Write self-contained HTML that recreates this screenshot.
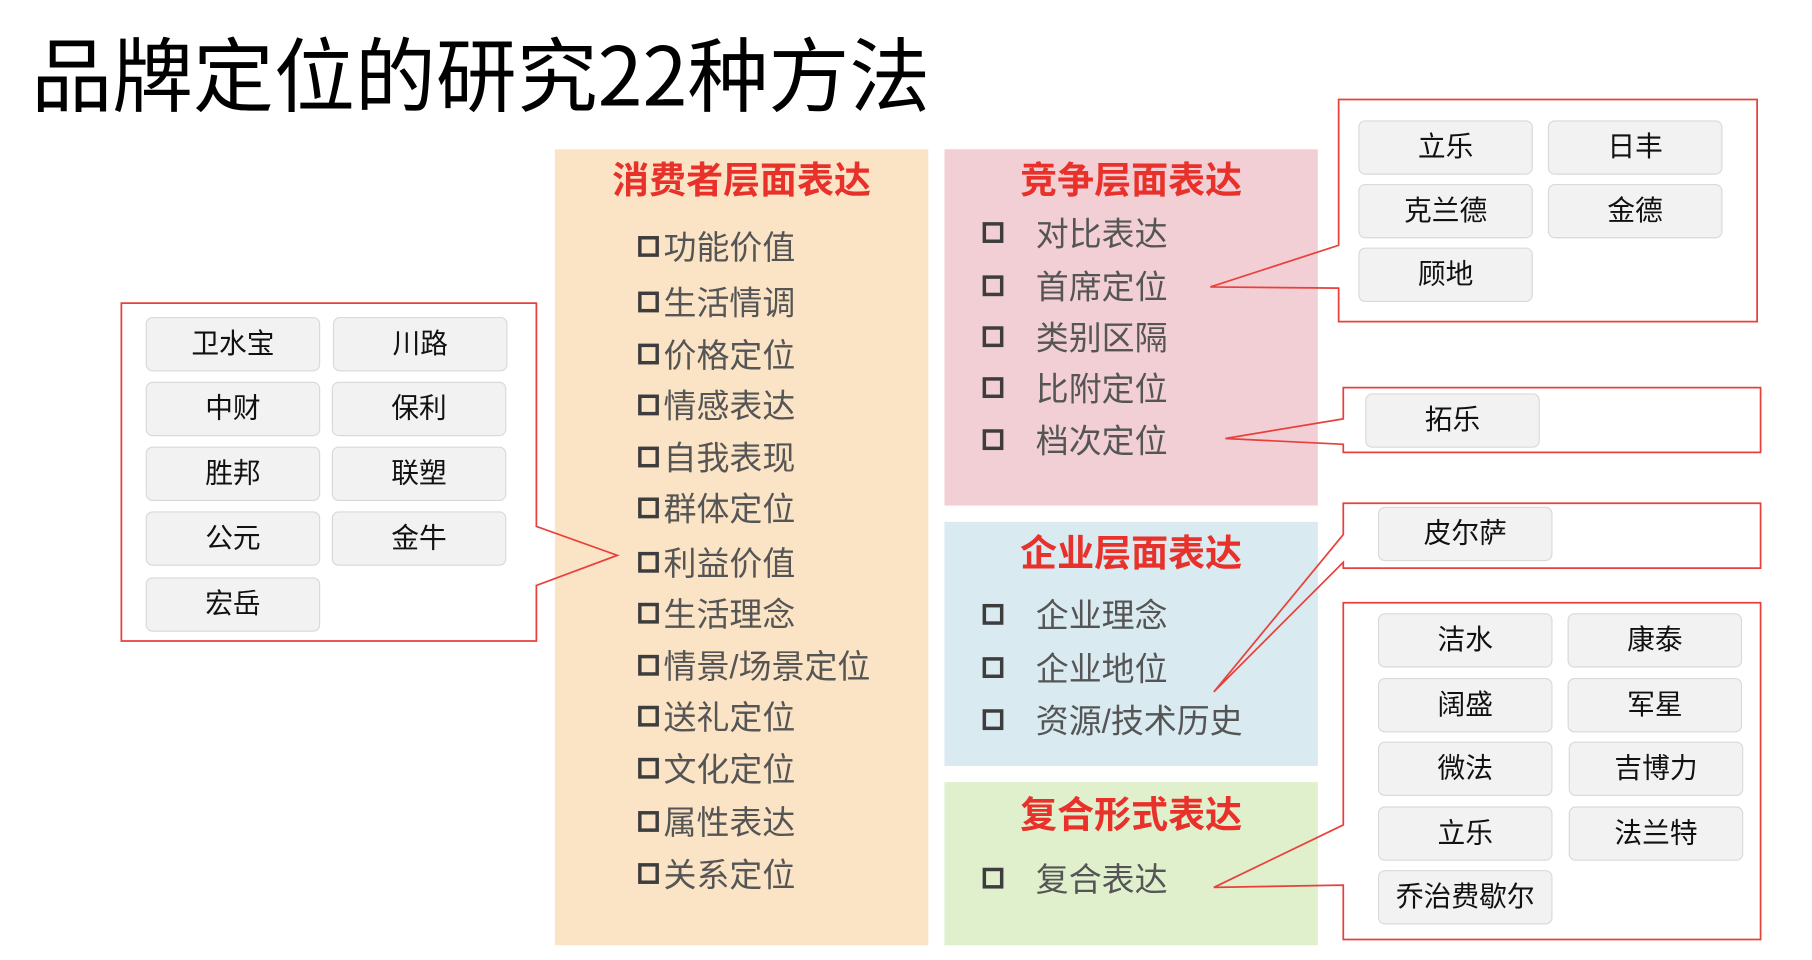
<!DOCTYPE html>
<html><head><meta charset="utf-8"><style>
html,body{margin:0;padding:0;background:#fff;}
body{width:1812px;height:950px;overflow:hidden;position:relative;font-family:"Liberation Sans","Noto Sans CJK SC",sans-serif;}
#c{position:absolute;left:0;top:0;width:1552px;height:830px;transform:scale(1.156,1.157);transform-origin:0 0;}
.a{position:absolute;}
.p{position:absolute;}
.h{position:absolute;color:#e8312a;font-weight:bold;font-size:32px;line-height:32px;text-align:center;white-space:nowrap;}
.it{position:absolute;font-size:28.5px;line-height:30px;color:#555;white-space:nowrap;}
.cb{display:inline-block;width:12px;height:12px;border:3px solid #3d3d3d;vertical-align:middle;margin-right:4px;position:relative;top:-3px;}
.b{position:absolute;width:149px;height:45px;background:#f2f2f2;border:1px solid #d9d9d9;border-radius:6px;font-size:24px;line-height:45px;text-align:center;color:#111;}
</style></head><body><div id="c">
<div class="a" style="left:27px;top:17px;font-size:70px;line-height:90px;white-space:nowrap;color:#000;font-family:'Noto Sans CJK SC',sans-serif;">品牌定位的研究22种方法</div>

<div class="p" style="left:480px;top:129px;width:323px;height:688px;background:#fbe4c5;"></div>
<div class="p" style="left:817px;top:129px;width:323px;height:308px;background:#f2cfd5;"></div>
<div class="p" style="left:817px;top:451px;width:323px;height:211px;background:#d9eaf1;"></div>
<div class="p" style="left:817px;top:676px;width:323px;height:141px;background:#e0efcc;"></div>

<div class="h" style="left:480px;width:323px;top:140px;">消费者层面表达</div>
<div class="h" style="left:817px;width:323px;top:140px;">竞争层面表达</div>
<div class="h" style="left:817px;width:323px;top:462px;">企业层面表达</div>
<div class="h" style="left:817px;width:323px;top:688px;">复合形式表达</div>

<div class="it" style="left:552px;top:200px;"><span class="cb"></span>功能价值</div>
<div class="it" style="left:552px;top:248px;"><span class="cb"></span>生活情调</div>
<div class="it" style="left:552px;top:293px;"><span class="cb"></span>价格定位</div>
<div class="it" style="left:552px;top:337px;"><span class="cb"></span>情感表达</div>
<div class="it" style="left:552px;top:382px;"><span class="cb"></span>自我表现</div>
<div class="it" style="left:552px;top:426px;"><span class="cb"></span>群体定位</div>
<div class="it" style="left:552px;top:473px;"><span class="cb"></span>利益价值</div>
<div class="it" style="left:552px;top:517px;"><span class="cb"></span>生活理念</div>
<div class="it" style="left:552px;top:562px;"><span class="cb"></span>情景/场景定位</div>
<div class="it" style="left:552px;top:606px;"><span class="cb"></span>送礼定位</div>
<div class="it" style="left:552px;top:651px;"><span class="cb"></span>文化定位</div>
<div class="it" style="left:552px;top:697px;"><span class="cb"></span>属性表达</div>
<div class="it" style="left:552px;top:742px;"><span class="cb"></span>关系定位</div>

<div class="it" style="left:850px;top:188px;"><span class="cb" style="margin-right:28px"></span>对比表达</div>
<div class="it" style="left:850px;top:234px;"><span class="cb" style="margin-right:28px"></span>首席定位</div>
<div class="it" style="left:850px;top:278px;"><span class="cb" style="margin-right:28px"></span>类别区隔</div>
<div class="it" style="left:850px;top:322px;"><span class="cb" style="margin-right:28px"></span>比附定位</div>
<div class="it" style="left:850px;top:367px;"><span class="cb" style="margin-right:28px"></span>档次定位</div>
<div class="it" style="left:850px;top:518px;"><span class="cb" style="margin-right:28px"></span>企业理念</div>
<div class="it" style="left:850px;top:564px;"><span class="cb" style="margin-right:28px"></span>企业地位</div>
<div class="it" style="left:850px;top:609px;"><span class="cb" style="margin-right:28px"></span>资源/技术历史</div>
<div class="it" style="left:850px;top:746px;"><span class="cb" style="margin-right:28px"></span>复合表达</div>

<svg class="a" style="left:0;top:0" width="1552" height="830" viewBox="0 0 1552 830">
<g fill="none" stroke="#e8413b" stroke-width="1.5">
<path d="M105,262 H464 V455 L534,480 L464,506 V554 H105 Z"/>
<path d="M1158,86 H1520 V278 H1158 V249 L1047,248 L1158,212 Z"/>
<path d="M1162,335 H1523 V391 H1162 V384 L1060,379 L1162,362 Z"/>
<path d="M1162,435 H1523 V491 H1162 V486 L1050,598 L1162,462 Z"/>
<path d="M1162,521 H1523 V812 H1162 V765 L1050,767 L1162,713 Z"/>
</g></svg>

<div class="b" style="left:126px;top:274px;">卫水宝</div>
<div class="b" style="left:288px;top:274px;">川路</div>
<div class="b" style="left:126px;top:330px;">中财</div>
<div class="b" style="left:287px;top:330px;">保利</div>
<div class="b" style="left:126px;top:386px;">胜邦</div>
<div class="b" style="left:287px;top:386px;">联塑</div>
<div class="b" style="left:126px;top:442px;">公元</div>
<div class="b" style="left:287px;top:442px;">金牛</div>
<div class="b" style="left:126px;top:499px;">宏岳</div>

<div class="b" style="left:1175px;top:104px;">立乐</div>
<div class="b" style="left:1339px;top:104px;">日丰</div>
<div class="b" style="left:1175px;top:159px;">克兰德</div>
<div class="b" style="left:1339px;top:159px;">金德</div>
<div class="b" style="left:1175px;top:214px;">顾地</div>

<div class="b" style="left:1181px;top:340px;">拓乐</div>
<div class="b" style="left:1192px;top:438px;">皮尔萨</div>

<div class="b" style="left:1192px;top:530px;">洁水</div>
<div class="b" style="left:1356px;top:530px;">康泰</div>
<div class="b" style="left:1192px;top:586px;">阔盛</div>
<div class="b" style="left:1356px;top:586px;">军星</div>
<div class="b" style="left:1192px;top:641px;">微法</div>
<div class="b" style="left:1357px;top:641px;">吉博力</div>
<div class="b" style="left:1192px;top:697px;">立乐</div>
<div class="b" style="left:1357px;top:697px;">法兰特</div>
<div class="b" style="left:1192px;top:752px;">乔治费歇尔</div>
</div></body></html>
